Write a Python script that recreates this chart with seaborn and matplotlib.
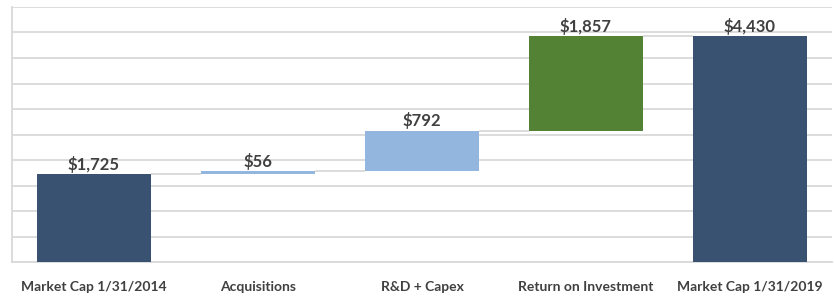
import numpy as np
import pandas as pd
import matplotlib
matplotlib.use("Agg")
import matplotlib.pyplot as plt
import seaborn as sns

# chart data
categories = ["Market Cap 1/31/2014", "Acquisitions", "R&D + Capex",
              "Return on Investment", "Market Cap 1/31/2019"]
values = [1725, 56, 792, 1857, 4430]
is_total = [True, False, False, False, True]
bar_colors = ["#3A5272", "#92B6DD", "#92B6DD", "#548235", "#3A5272"]

# waterfall bases / heights
bases = []
running = 0
for v, tot in zip(values, is_total):
    if tot:
        bases.append(0)
        running = v
    else:
        bases.append(running)
        running += v
df = pd.DataFrame({"category": categories, "value": values, "base": bases})
df["top"] = df["base"] + df["value"]

sns.set_theme(style="white")
plt.rcParams["font.family"] = ["Lato", "DejaVu Sans"]

fig = plt.figure(figsize=(8.34, 2.96), dpi=100)
ax = fig.add_axes([12 / 834, 34 / 296, 820 / 834, 255 / 296])

sns.barplot(data=df, x="category", y="value", bottom=df["base"].values,
            width=0.69, color=bar_colors[0], ax=ax, zorder=3)
for patch, c in zip(ax.patches, bar_colors):
    patch.set_facecolor(c)
    patch.set_edgecolor("none")

# connector lines
half = 0.69 / 2
for i in range(len(df) - 1):
    level = df["top"].iloc[i]
    ax.hlines(level, i + half, i + 1 - half, color="#D9D9D9", lw=1.3, zorder=2)

# value labels
for i, row in df.iterrows():
    ax.annotate(f"${row['value']:,}", (i, row["top"]), xytext=(0, 1),
                textcoords="offset points", ha="center", va="bottom",
                fontsize=12, fontweight="bold", color="#404040", zorder=4)

ax.set_ylim(0, 5000)
ax.set_xlim(-0.5, 4.5)
ax.set_yticks(np.arange(0, 5001, 500))
ax.set_yticklabels([])
ax.grid(axis="y", color="#D9D9D9", lw=1.3, zorder=0)
ax.set_axisbelow(True)
ax.set_xlabel("")
ax.set_ylabel("")
ax.tick_params(axis="x", length=0, pad=14, labelsize=10, labelcolor="#404040")
ax.tick_params(axis="y", length=0)
for lbl in ax.get_xticklabels():
    lbl.set_fontweight("bold")
for side in ["top", "right"]:
    ax.spines[side].set_visible(False)
for side in ["left", "bottom"]:
    ax.spines[side].set_color("#D9D9D9")
    ax.spines[side].set_linewidth(1.3)

fig.savefig("out.png", dpi=100)
